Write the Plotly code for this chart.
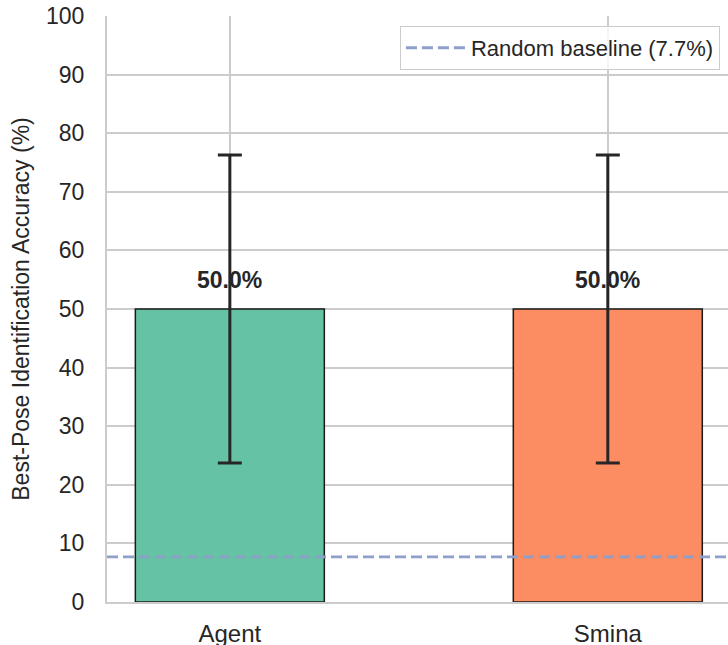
import plotly.graph_objects as go

categories = ["Agent", "Smina"]
accuracy = [50.0, 50.0]
err_low = [23.7, 23.7]
err_high = [76.3, 76.3]
baseline = 7.7
bar_colors = ["#66c2a5", "#fc8d62"]
y_ticks = [0, 10, 20, 30, 40, 50, 60, 70, 80, 90, 100]

xs = list(range(len(categories)))
err_plus = [h - v for h, v in zip(err_high, accuracy)]
err_minus = [v - l for l, v in zip(err_low, accuracy)]

FONT = "Arial, Liberation Sans, Helvetica, sans-serif"
DASH = "11px,5px"
fig = go.Figure()
fig.add_trace(go.Bar(
    x=xs, y=accuracy, width=0.5,
    marker=dict(color=bar_colors, line=dict(color="#1a1a1a", width=1.5)),
    error_y=dict(type="data", symmetric=False, array=err_plus, arrayminus=err_minus,
                 color="#262626", thickness=3, width=12),
    showlegend=False, hoverinfo="skip",
))
fig.add_hline(y=baseline, line=dict(color="#8da0cb", width=2.8, dash=DASH), layer="above")
fig.add_trace(go.Scatter(
    x=[None], y=[None], mode="lines",
    line=dict(color="#8da0cb", width=2.8, dash=DASH),
    name=f"Random baseline ({baseline}%)",
))
for x, v in zip(xs, accuracy):
    fig.add_annotation(x=x, y=v + 4.9, text=f"<b>{v:.1f}%</b>", showarrow=False,
                       font=dict(size=23, color="#262626", family=FONT))

fig.update_layout(
    width=728, height=645,
    margin=dict(l=107, r=0, t=16, b=43),
    paper_bgcolor="white", plot_bgcolor="white",
    font=dict(family=FONT, color="#262626"),
    legend=dict(x=0.987, y=0.983, xanchor="right", yanchor="top", itemwidth=60,
                bordercolor="#cccccc", borderwidth=1, bgcolor="rgba(255,255,255,0.8)",
                font=dict(size=22, color="#262626")),
    xaxis=dict(range=[-0.325, 1.318], tickvals=xs, ticktext=categories,
               showgrid=True, gridcolor="#cccccc", gridwidth=1.5,
               showline=True, linecolor="#cccccc", linewidth=2, automargin=False,
               tickfont=dict(size=24), ticks="", ticklabelstandoff=9, zeroline=False,
               ticklabeloverflow="allow"),
    yaxis=dict(range=[0, 100], tickvals=y_ticks,
               showgrid=True, gridcolor="#cccccc", gridwidth=1.5,
               showline=True, linecolor="#cccccc", linewidth=2, automargin=False,
               tickfont=dict(size=23), ticks="", ticklabelstandoff=16, zeroline=False,
               ticklabeloverflow="allow",
               title=dict(text="Best-Pose Identification Accuracy (%)", font=dict(size=23), standoff=10)),
)
fig.write_html("out.html", config={"displayModeBar": False},
               post_script="document.body.style.margin='0';")
